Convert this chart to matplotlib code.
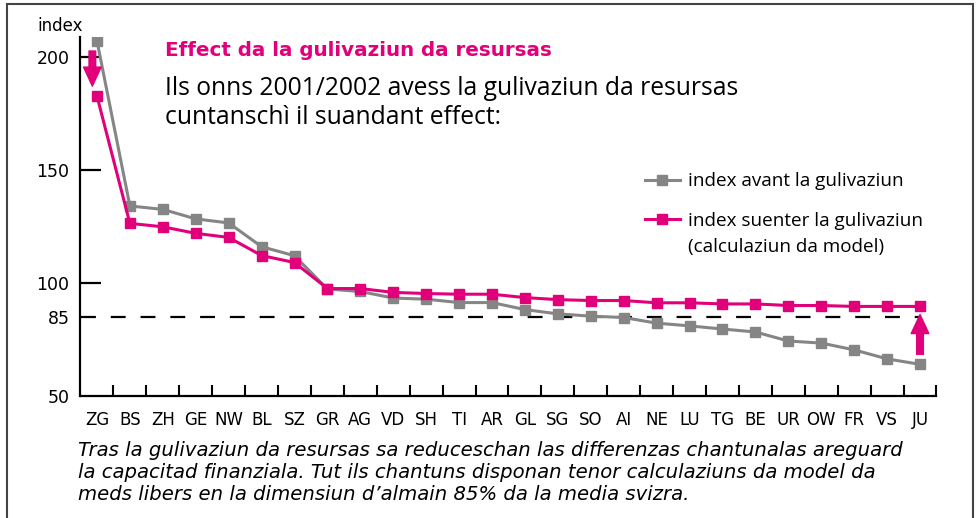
import matplotlib
matplotlib.use('Agg')
import matplotlib.pyplot as plt
from matplotlib.patches import Rectangle

# cantons, sorted by index before equalisation
cantons = ['ZG', 'BS', 'ZH', 'GE', 'NW', 'BL', 'SZ', 'GR', 'AG', 'VD', 'SH', 'TI', 'AR',
           'GL', 'SG', 'SO', 'AI', 'NE', 'LU', 'TG', 'BE', 'UR', 'OW', 'FR', 'VS', 'JU']
index_before = [207, 134, 132.5, 128.3, 126.5, 116, 112, 97.3, 96.2, 93.3, 92.8, 91.3, 91.3,
                88.2, 86.3, 85.3, 84.7, 82.2, 81.0, 79.6, 78.3, 74.3, 73.4, 70.4, 66.4, 64.0]
index_after = [182.6, 126.3, 124.8, 121.9, 120.1, 112.1, 109.0, 97.5, 97.5, 95.8, 95.3, 95.0, 95.0,
               93.5, 92.6, 92.2, 92.2, 91.2, 91.2, 90.7, 90.7, 90.0, 90.0, 89.6, 89.6, 89.6]
y_ticks = [50, 85, 100, 150, 200]
threshold = 85

pink = '#e2007a'
grey = '#858585'
sans = ['DejaVu Sans']
regular = ['Open Sans', 'DejaVu Sans']

fig = plt.figure(figsize=(9.79, 5.18), dpi=100)
ax = fig.add_axes([80.5 / 979, 1 - 396 / 518, (936.5 - 80.5) / 979, (396 - 37) / 518])

x = range(len(cantons))
ax.plot(x, index_before, color=grey, lw=2.2, marker='s', ms=7, zorder=3,
        label='index avant la gulivaziun')
ax.plot(x, index_after, color=pink, lw=2.2, marker='s', ms=7, zorder=4,
        label='index suenter la gulivaziun')
ax.plot([-0.5, len(cantons) - 1], [threshold, threshold], color='black', lw=1.6,
        dashes=(6.7, 6.7), zorder=2)

# arrows showing the shift for first and last canton
arrow = dict(arrowstyle='simple,head_width=1.06,head_length=1.14,tail_width=0.4',
             color=pink, mutation_scale=12, shrinkA=0, shrinkB=0)
ax.annotate('', xy=(-0.14, 187), xytext=(-0.14, 202.5), arrowprops=arrow, zorder=5)
ax.annotate('', xy=(len(cantons) - 1, 86), xytext=(len(cantons) - 1, 68.4),
            arrowprops=arrow, zorder=5)

ax.set_xlim(-0.5, len(cantons) - 0.5)
ax.set_ylim(50, 208.7)
ax.spines['top'].set_visible(False)
ax.spines['right'].set_visible(False)
ax.spines['left'].set_linewidth(1.6)
ax.spines['bottom'].set_linewidth(1.6)

ax.set_xticks(list(x))
ax.set_xticklabels(cantons, family=sans, fontsize=12)
ax.set_xticks([i + 0.5 for i in x], minor=True)
ax.tick_params(axis='x', which='major', length=0, pad=11)
ax.tick_params(axis='x', which='minor', direction='in', length=8, width=1.5)

ax.set_yticks(y_ticks)
ax.set_yticklabels([str(v) for v in y_ticks], family=sans, fontsize=12.5)
ax.tick_params(axis='y', direction='in', length=15, width=1.6, pad=8)
for t, v in zip(ax.yaxis.get_major_ticks(), y_ticks):
    if v in (50, 85):
        t.tick1line.set_visible(False)

leg = ax.legend(loc='upper left', bbox_to_anchor=(645 / 979, 1 - 172.5 / 518),
                bbox_transform=fig.transFigure, frameon=False, borderpad=0, borderaxespad=0,
                handlelength=1.85, handletextpad=0.4, labelspacing=1.13,
                prop={'family': regular, 'size': 13.6})
fig.text(688 / 979, 1 - 247 / 518, '(calculaziun da model)', family=regular, fontsize=13.6,
         va='center', ha='left')

fig.text(37 / 979, 1 - 30.7 / 518, 'index', family=sans, fontsize=12, va='baseline', ha='left')
fig.text(165 / 979, 1 - 56 / 518, 'Effect da la gulivaziun da resursas', family=sans,
         fontsize=14.3, fontweight='bold', color=pink, va='baseline', ha='left')
fig.text(165 / 979, 1 - 95 / 518, 'Ils onns 2001/2002 avess la gulivaziun da resursas',
         family=regular, fontsize=17.7, va='baseline', ha='left')
fig.text(165 / 979, 1 - 124 / 518, 'cuntanschì il suandant effect:',
         family=regular, fontsize=17.7, va='baseline', ha='left')

notes = ['Tras la gulivaziun da resursas sa reduceschan las differenzas chantunalas areguard',
         'la capacitad finanziala. Tut ils chantuns disponan tenor calculaziuns da model da',
         'meds libers en la dimensiun d\u2019almain 85% da la media svizra.']
for i, line in enumerate(notes):
    fig.text(78 / 979, 1 - (450 + 22.5 * i) / 518, line, family=sans, fontsize=14.15,
             style='italic', va='center', ha='left')

fig.patches.append(Rectangle((6.7 / 979, -0.1), (973 - 6.7) / 979, 1.1 - 4.5 / 518,
                             transform=fig.transFigure, fill=False, lw=1.5, ec='#444444'))

fig.savefig('out.png', dpi=100)
